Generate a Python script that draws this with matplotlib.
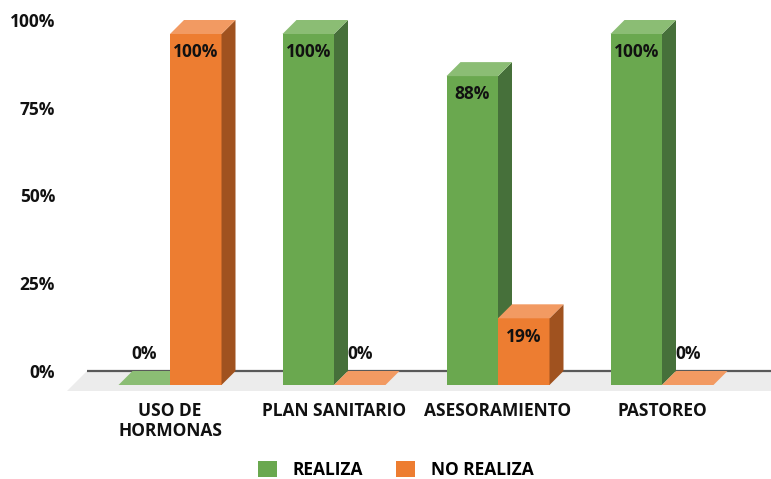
import matplotlib.pyplot as plt
from matplotlib.patches import Polygon, Patch

plt.rcParams['font.family'] = ['Open Sans', 'DejaVu Sans']
plt.rcParams['font.weight'] = 'bold'

categories = ['USO DE\nHORMONAS', 'PLAN SANITARIO', 'ASESORAMIENTO', 'PASTOREO']
realiza = [0, 100, 88, 100]
no_realiza = [100, 0, 19, 0]
series_names = ['REALIZA', 'NO REALIZA']
yticks = [0, 25, 50, 75, 100]

# colours: front, side, top
green = ('#6AA84F', '#46703A', '#8BBD74')
orange = ('#ED7D31', '#A0521F', '#F29A62')
txt = '#111111'
FS = 12.5

W, H = 771, 479
fig = plt.figure(figsize=(W / 100, H / 100), dpi=100)
# back plane of the chart: x pixel 87..771, y pixel 20..371
ax = fig.add_axes([87 / W, (H - 371) / H, (W - 87) / W, 351 / H])
px_x = 164.0          # pixels per category
px_y = 3.51           # pixels per percent
ax.set_xlim((87 - 184) / px_x, (W - 184) / px_x)
ax.set_ylim(0, 100)

ddx = 14 / px_x       # depth offset
ddy = 14 / px_y
bw = 51.5 / px_x      # bar width


def bar3d(x0, v, cols):
    x1 = x0 + bw
    yb, yt = -ddy, v - ddy
    kw = dict(closed=True, lw=0, clip_on=False, zorder=3)
    if v > 0:
        ax.add_patch(Polygon([(x0, yb), (x1, yb), (x1, yt), (x0, yt)], fc=cols[0], **kw))
        ax.add_patch(Polygon([(x1, yb), (x1 + ddx, 0), (x1 + ddx, v), (x1, yt)], fc=cols[1], **kw))
    ax.add_patch(Polygon([(x0, yt), (x1, yt), (x1 + ddx, v), (x0 + ddx, v)], fc=cols[2], **kw))


def label(xc, v):
    y = v - ddy - 5.2 if v > 0 else -ddy + 8.8
    ax.text(xc, y, f'{v}%', ha='center', va='center', fontsize=FS,
            fontweight='bold', color=txt, zorder=5, clip_on=False)


# floor
fl = 20 / px_y
ax.add_patch(Polygon([((87 - 184) / px_x, 0), ((W + 5 - 184) / px_x, 0),
                      ((W - 184) / px_x, -fl), ((67 - 184) / px_x, -fl)],
                     closed=True, fc='#ECECEC', lw=0, clip_on=False, zorder=1))
ax.plot([(87 - 184) / px_x, (W - 184) / px_x], [0, 0], color='#595959', lw=1.6,
        zorder=2, clip_on=False, solid_capstyle='butt')

for i in range(len(categories)):
    xg = i - ddx - bw
    xo = i - ddx
    bar3d(xg, realiza[i], green)
    bar3d(xo, no_realiza[i], orange)
    label(xg + bw / 2, realiza[i])
    label(xo + bw / 2, no_realiza[i])
    ax.text(i - ddx, (371 - 402) / px_y, categories[i], ha='center', va='top',
            fontsize=FS, fontweight='bold', color=txt, linespacing=1.15,
            clip_on=False)

ax.set_yticks(yticks)
ax.set_yticklabels([f'{t}%' for t in yticks], fontsize=FS, fontweight='bold',
                   color=txt)
ax.tick_params(axis='y', length=0, pad=23)
ax.set_xticks([])
for s in ax.spines.values():
    s.set_visible(False)
ax.patch.set_alpha(0)

handles = [Patch(fc=green[0], lw=0), Patch(fc=orange[0], lw=0)]
fig.legend(handles, series_names, loc='center', bbox_to_anchor=(396 / W, 9 / H),
           ncol=2, frameon=False, handlelength=1.1, handleheight=1.0,
           handletextpad=0.9, columnspacing=1.9, prop={'weight': 'bold', 'size': FS})

fig.savefig('out.png', dpi=100)
